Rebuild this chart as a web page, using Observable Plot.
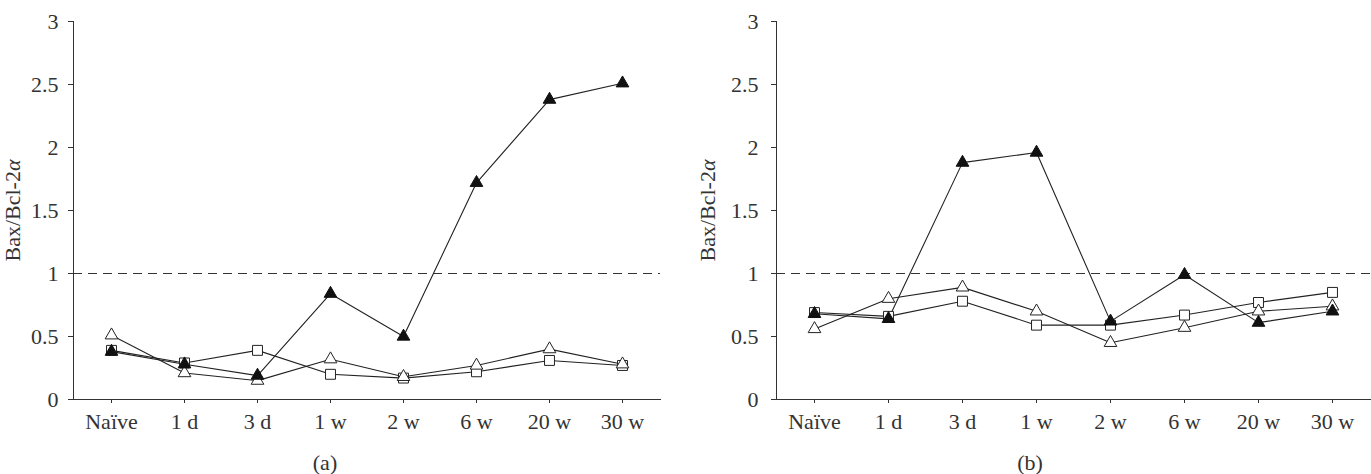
<!DOCTYPE html>
<html><head><meta charset="utf-8">
<script src="https://cdn.jsdelivr.net/npm/d3@7"></script>
<script src="https://cdn.jsdelivr.net/npm/@observablehq/plot@0.6"></script>
<style>
body{margin:0;background:#fff;}
#fig{position:relative;width:1371px;height:474px;font-family:"Liberation Serif",serif;}
.panel{position:absolute;top:0;}
.cap{position:absolute;top:452px;font-size:22px;line-height:22px;color:#333;transform:translateX(-50%);}
</style></head><body>
<div id="fig"></div>
<script>
const categories = ["Naïve", "1 d", "3 d", "1 w", "2 w", "6 w", "20 w", "30 w"];
const yTicks = [0, 0.5, 1, 1.5, 2, 2.5, 3];
const yLabel = "Bax/Bcl-2α";
const referenceLine = [1];
// panel (a)
const aFilledTriangle = [0.38, 0.28, 0.19, 0.84, 0.50, 1.72, 2.38, 2.51];
const aOpenSquare     = [0.39, 0.29, 0.39, 0.20, 0.17, 0.22, 0.31, 0.27];
const aOpenTriangle   = [0.51, 0.21, 0.15, 0.32, 0.18, 0.27, 0.40, 0.28];
// panel (b)
const bFilledTriangle = [0.68, 0.64, 1.88, 1.96, 0.62, 0.99, 0.61, 0.70];
const bOpenSquare     = [0.69, 0.66, 0.78, 0.59, 0.59, 0.67, 0.77, 0.85];
const bOpenTriangle   = [0.56, 0.80, 0.89, 0.70, 0.45, 0.57, 0.70, 0.74];

function rows(vals, s) { return vals.map((v, i) => ({cat: categories[i], v, s})); }

function panel(filledTri, openSq, openTri, cfg) {
  const sq = rows(openSq, "sq"), ot = rows(openTri, "ot"), ft = rows(filledTri, "ft");
  const all = [...sq, ...ot, ...ft];
  const svg = Plot.plot({
    width: cfg.width, height: 440,
    marginLeft: cfg.ml, marginRight: cfg.mr, marginTop: 21, marginBottom: 41,
    style: {fontFamily: "'Liberation Serif', serif", fontSize: "22px", color: "#333", background: "transparent", overflow: "visible"},
    x: {type: "point", domain: categories, padding: 0.5, label: null, line: true, tickSize: 4, tickPadding: 10},
    y: {domain: [0, 3], ticks: yTicks, tickFormat: d3.format("~g"), label: null, line: true, tickSize: 5, tickPadding: cfg.tp},
    marks: [
      Plot.ruleY(referenceLine, {stroke: "#333", strokeDasharray: "9,6", strokeWidth: 1.2}),
      Plot.line(all, {x: "cat", y: "v", z: "s", stroke: "#222", strokeWidth: 1.1}),
      Plot.dot(sq, {x: "cat", y: "v", symbol: "square", r: 5.6, fill: "white", stroke: "#222", strokeWidth: 1}),
      Plot.dot(ot, {x: "cat", y: "v", symbol: "triangle", r: 4.7, fill: "white", stroke: "#222", strokeWidth: 1}),
      Plot.dot(ft, {x: "cat", y: "v", symbol: "triangle", r: 4.7, fill: "#111", stroke: "#111", strokeWidth: 1}),
      Plot.text([yLabel], {frameAnchor: "left", dx: cfg.ldx, rotate: -90, textAnchor: "middle", fontSize: 22, fill: "#333"})
    ]
  });
  svg.classList.add("panel");
  svg.style.left = cfg.left + "px";
  // italic alpha
  d3.select(svg).selectAll("text").each(function () {
    if (this.textContent === yLabel) {
      this.textContent = "Bax/Bcl-2";
      const t = document.createElementNS("http://www.w3.org/2000/svg", "tspan");
      t.setAttribute("font-style", "italic");
      t.textContent = "α";
      this.appendChild(t);
    }
  });
  return svg;
}

const fig = document.getElementById("fig");
fig.appendChild(panel(aFilledTriangle, aOpenSquare, aOpenTriangle, {width: 685, ml: 73, mr: 25, tp: 10, ldx: -61, left: 0}));
fig.appendChild(panel(bFilledTriangle, bOpenSquare, bOpenTriangle, {width: 686, ml: 91, mr: 1, tp: 13, ldx: -69, left: 685}));
for (const [txt, x] of [["(a)", 325], ["(b)", 1030]]) {
  const d = document.createElement("div");
  d.className = "cap"; d.style.left = x + "px"; d.textContent = txt;
  fig.appendChild(d);
}
</script>
</body></html>
